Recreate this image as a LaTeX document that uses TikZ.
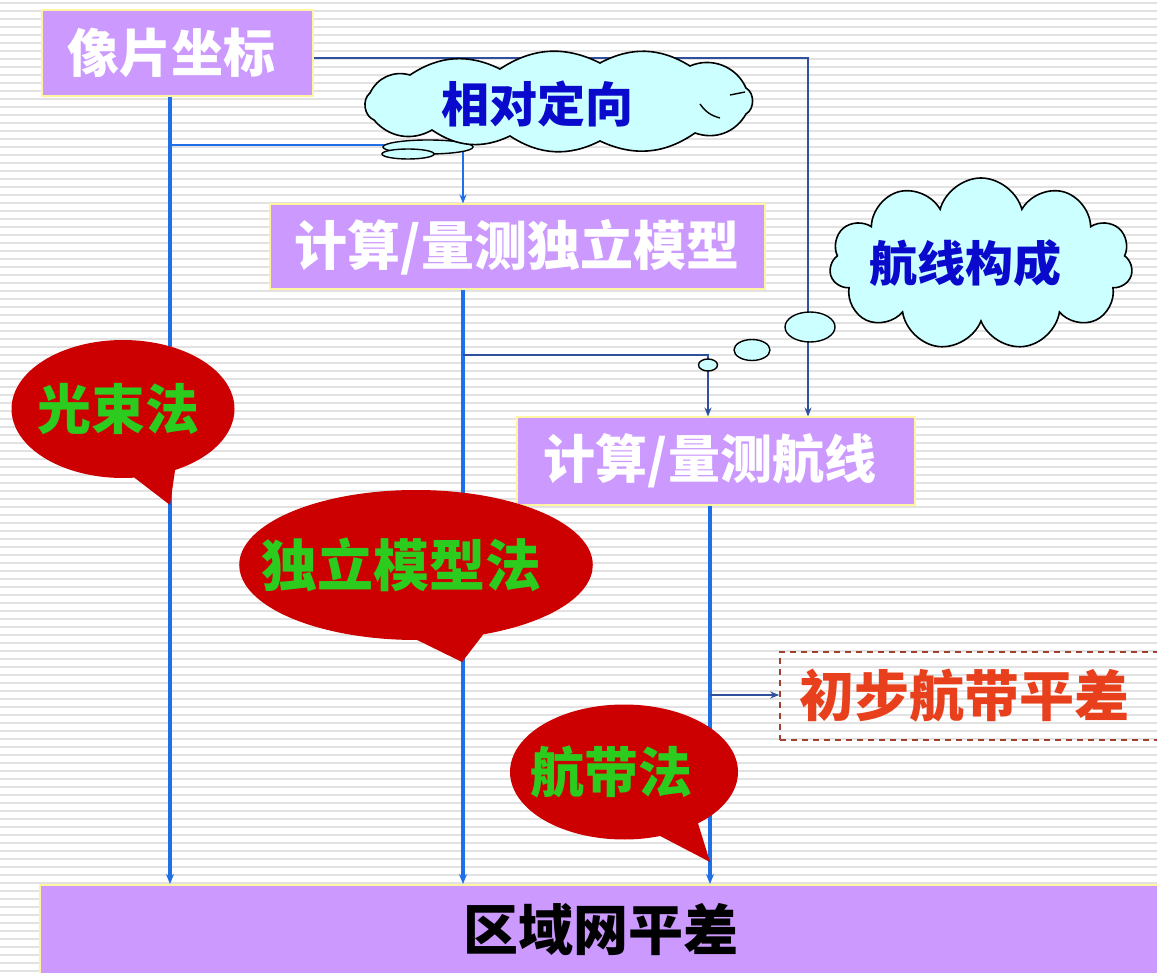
\documentclass[tikz,border=0pt]{standalone}
\usepackage{fontspec}
\newfontfamily\cjk{Noto Sans CJK SC}
\usetikzlibrary{shapes.symbols,shapes.callouts,shapes.geometric,arrows.meta}
\definecolor{boxpurple}{HTML}{CC99FF}
\definecolor{boxedge}{HTML}{FFF5A0}
\definecolor{lineblue}{HTML}{1F6FE8}
\definecolor{darkblue}{HTML}{30509E}
\definecolor{cloudfill}{HTML}{CCFFFF}
\definecolor{cloudtext}{HTML}{0A0ACC}
\definecolor{bubblered}{HTML}{CC0000}
\definecolor{bubbletext}{HTML}{2BCC1E}
\definecolor{orangered}{HTML}{E8401C}
\definecolor{dashbrown}{HTML}{A04030}
\definecolor{stripecol}{HTML}{E2E2E2}
\newcommand{\fsz}[1]{\cjk\bfseries\fontsize{#1}{#1}\selectfont}
\begin{document}
\begin{tikzpicture}[x=1pt,y=-1pt,
  pbox/.style={draw=boxedge, line width=2pt, fill=boxpurple, text=white,
    font=\fsz{52}, inner sep=0pt},
  cloudbox/.style={cloud, cloud ignores aspect, draw=black, line width=1.6pt, fill=cloudfill,
    inner sep=0pt},
  cloudline/.style={draw=black, line width=1.6pt, fill=cloudfill},
  cloudtxt/.style={text=cloudtext, font=\fsz{48}},
  bubblebox/.style={ellipse callout, fill=bubblered, text=bubbletext, callout pointer arc=22,
    font=\fsz{54}, inner sep=0pt},
  thoughtbox/.style={ellipse, draw=black, line width=1.4pt, fill=cloudfill, inner sep=0pt},
  thickblue/.style={draw=lineblue, line width=3.5pt, -{Stealth[length=10pt,width=8pt]}},
  midblue/.style={draw=lineblue, line width=2pt, -{Stealth[length=9pt,width=7pt]}},
  thinblue/.style={draw=darkblue, line width=1.6pt, -{Stealth[length=9pt,width=7pt]}},
  stripe/.style={draw=stripecol, line width=2pt}
]
\useasboundingbox (0,0) rectangle (1157,973);
\fill[white] (0,0) rectangle (1157,973);
\foreach \yy in {3,11,...,971} \draw[stripe] (0,\yy) -- (1157,\yy);

% boxes
\node[pbox, minimum width=271pt, minimum height=86pt] (xp) at (177,53) {\hspace*{-12pt}像片坐标};
\node[pbox, font=\fsz{53}, minimum width=495pt, minimum height=85pt] (b2) at (517,247) {计算/量测独立模型};
\node[pbox, minimum width=398pt, minimum height=87pt] (b3) at (716,461) {\hspace*{-12pt}计算/量测航线};
\node[pbox, text=black, font=\fsz{55}, minimum width=1122pt, minimum height=90pt] (bar) at (601,930) {区域网平差};
\node[draw=dashbrown, dashed, dash pattern=on 6pt off 5pt, line width=1.6pt, text=orangered,
  font=\fsz{55}, minimum width=382pt, minimum height=88pt,
  inner sep=0pt] (db) at (971,696) {\hspace*{-14pt}初步航带平差};

% junction coordinates
\coordinate (jA) at (170,145);
\coordinate (jB) at (463,355);
\coordinate (jC) at (808,400);
\coordinate (jE) at (708,355);
\coordinate (jF) at (710,695);

% connectors
\draw[thickblue] (xp.south -| jA) -- (bar.north -| jA);
\draw[midblue] (jA) -| (b2.north -| jB);
\draw[thinblue] ([yshift=-5pt]xp.east) -| (b3.north -| jC);
\draw[thickblue] (b2.south -| jB) -- (bar.north -| jB);
\draw[thinblue] (jB) -| (b3.north -| jE);
\draw[thickblue] (b3.south -| jF) -- (bar.north -| jF);
\draw[thinblue] (jF) -- (jF -| db.west);

% cloud: relative orientation
\node[thoughtbox, minimum width=90pt, minimum height=14pt] (w1) at (428,147) {};
\node[thoughtbox, minimum width=52pt, minimum height=10pt] (w2) at (408,154) {};
\path[cloudline] (374,120) to[bend left=60] (370,93) to[bend left=40] (410,75)
  to[bend left=30] (500,69) to[bend left=30] (600,63) to[bend left=30] (690,66)
  to[bend left=45] (746,88) to[bend left=60] (746,114) to[bend left=40] (695,133)
  to[bend left=30] (600,141) to[bend left=30] (510,136) to[bend left=30] (432,130)
  to[bend left=40] cycle;
\draw[line width=1.4pt] (700,104) to[bend right=20] (720,118);
\draw[line width=1.4pt] (730,95) -- (745,92);
\node[cloudtxt] (rdt) at (537,104) {相对定向};

% cloud: strip formation
\node[thoughtbox, minimum width=50pt, minimum height=30pt] (t1) at (810,327) {};
\node[thoughtbox, minimum width=36pt, minimum height=21pt] (t2) at (752,350) {};
\node[thoughtbox, minimum width=19pt, minimum height=12pt] (t3) at (708,365) {};
\node[cloudbox, cloud puffs=11, minimum width=303pt, minimum height=172pt] (hx) at (981,264) {};
\node[cloudtxt] (hxt) at (965,263) {航线构成};

% speech bubbles
\node[bubblebox, minimum width=223pt, minimum height=138pt, callout absolute pointer={(170,505)}] (gs) at (123,409) {\hspace*{-10pt}光束法};
\node[bubblebox, font=\fsz{56}, minimum width=323pt, minimum height=150pt, callout absolute pointer={(462,662)}] (dl) at (416,565) {\hspace*{-30pt}独立模型法};
\node[bubblebox, minimum width=228pt, minimum height=135pt, callout absolute pointer={(710,862)}] (hd) at (624,772) {\hspace*{-25pt}航带法};
\end{tikzpicture}
\end{document}
